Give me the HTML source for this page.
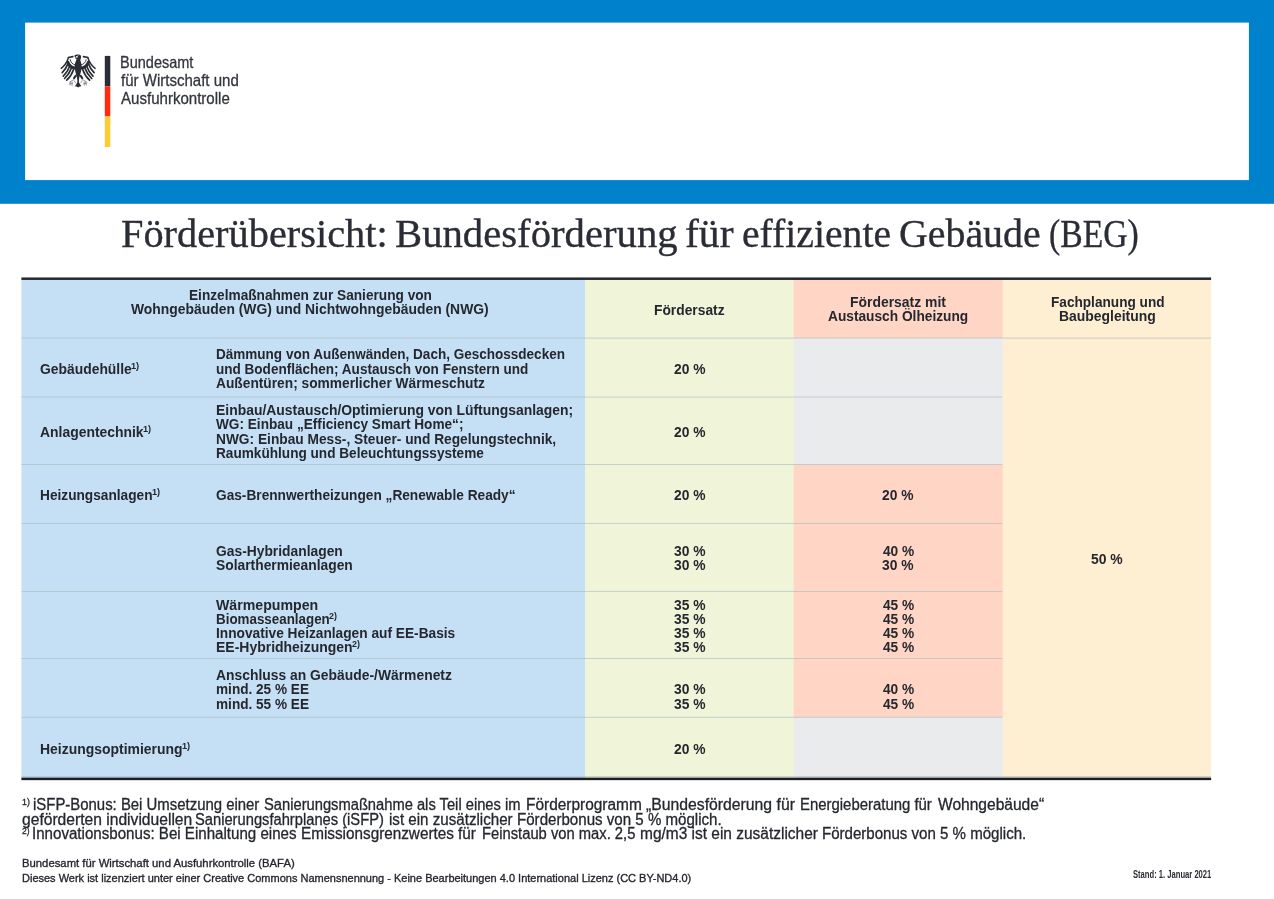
<!DOCTYPE html>
<html lang="de">
<head>
<meta charset="utf-8">
<title>Förderübersicht: Bundesförderung für effiziente Gebäude (BEG)</title>
<style>
html,body{margin:0;padding:0;background:#fff}
body{width:1274px;height:899px;position:relative;overflow:hidden;font-family:"Liberation Sans",sans-serif}
.abs{position:absolute}
.logo{-webkit-text-stroke:0.3px #33363d}
.title{-webkit-text-stroke:0.35px #2b2d36}
.fn,.fnsup{-webkit-text-stroke:0.3px #25272f}
.ft{-webkit-text-stroke:0.35px #25272f}
p{margin:0}
.t{position:absolute;white-space:pre;line-height:1;transform-origin:0 0;display:block}
.logo{font-family:"Liberation Sans", sans-serif;font-size:16.5px;font-weight:400;color:#33363d}
.title{font-family:"Liberation Serif", serif;font-size:40.6px;font-weight:400;color:#2b2d36}
.th{font-family:"Liberation Sans", sans-serif;font-size:15px;font-weight:700;color:#25272f}
.td{font-family:"Liberation Sans", sans-serif;font-size:15px;font-weight:700;color:#25272f}
.num{font-family:"Liberation Sans", sans-serif;font-size:15px;font-weight:700;color:#25272f}
.sup{font-family:"Liberation Sans", sans-serif;font-size:9px;font-weight:700;color:#25272f}
.fn{font-family:"Liberation Sans", sans-serif;font-size:16px;font-weight:400;color:#25272f}
.fnsup{font-family:"Liberation Sans", sans-serif;font-size:9.3px;font-weight:400;color:#25272f}
.ft{font-family:"Liberation Sans", sans-serif;font-size:11.8px;font-weight:400;color:#25272f}
.st{font-family:"Liberation Sans", sans-serif;font-size:10.4px;font-weight:700;color:#2b2d36}
#hdr{left:0;top:0;width:1274px;height:204px}
#hdrbox{left:25px;top:23px;width:1224px;height:157px}
</style>
</head>
<body>
<svg class="abs" id="tblbg" width="1274" height="899" viewBox="0 0 1274 899" style="left:0;top:0" aria-hidden="true">
<rect x="0" y="0" width="1274" height="203.8" fill="#0081cc"/>
<rect x="25.1" y="22.6" width="1223.8" height="157.5" fill="#fff"/>
<rect x="104.8" y="55.9" width="5.5" height="30.4" fill="#2b2d36"/>
<rect x="104.8" y="86.3" width="5.5" height="30.1" fill="#ff2c10"/>
<rect x="104.8" y="116.4" width="5.5" height="30.6" fill="#ffcb32"/>
<rect x="21.40" y="279.00" width="564.10" height="499.50" fill="#c5e0f4"/>
<rect x="585.00" y="279.00" width="209.20" height="499.50" fill="#f0f5d9"/>
<rect x="1002.30" y="279.00" width="208.80" height="499.50" fill="#feeed2"/>
<rect x="793.70" y="279.00" width="209.10" height="59.60" fill="#ffd5c5"/>
<rect x="793.70" y="338.10" width="209.10" height="59.45" fill="#eaebed"/>
<rect x="793.70" y="397.05" width="209.10" height="67.95" fill="#eaebed"/>
<rect x="793.70" y="464.50" width="209.10" height="59.45" fill="#ffd5c5"/>
<rect x="793.70" y="523.45" width="209.10" height="68.50" fill="#ffd5c5"/>
<rect x="793.70" y="591.45" width="209.10" height="67.55" fill="#ffd5c5"/>
<rect x="793.70" y="658.50" width="209.10" height="59.30" fill="#ffd5c5"/>
<rect x="793.70" y="717.30" width="209.10" height="61.20" fill="#eaebed"/>
<rect x="21.40" y="337.60" width="1189.70" height="1.00" fill="#a7b9c2" fill-opacity="0.6"/>
<rect x="21.40" y="396.55" width="980.90" height="1.00" fill="#a7b9c2" fill-opacity="0.6"/>
<rect x="21.40" y="464.00" width="980.90" height="1.00" fill="#a7b9c2" fill-opacity="0.6"/>
<rect x="21.40" y="522.95" width="980.90" height="1.00" fill="#a7b9c2" fill-opacity="0.6"/>
<rect x="21.40" y="590.95" width="980.90" height="1.00" fill="#a7b9c2" fill-opacity="0.6"/>
<rect x="21.40" y="658.00" width="980.90" height="1.00" fill="#a7b9c2" fill-opacity="0.6"/>
<rect x="21.40" y="716.80" width="980.90" height="1.00" fill="#a7b9c2" fill-opacity="0.6"/>
<rect x="21.40" y="776.10" width="1189.70" height="1.00" fill="#a7b9c2" fill-opacity="0.6"/>
<rect x="21.40" y="277.45" width="1189.70" height="2.50" fill="#25282f"/>
<rect x="21.40" y="777.65" width="1189.70" height="2.50" fill="#1b1c25"/>
</svg>
<header class="abs" id="hdr"></header>
<div class="abs" id="hdrbox"></div>
<div id="logo">
<svg class="abs" id="eagle" viewBox="54 48 50 46" style="left:54px;top:48px;width:50px;height:46px" aria-label="Bundesadler">
<defs>
<g id="wing" fill="none" stroke="#2a2d35" stroke-linecap="round" stroke-linejoin="round">
<path d="M72.8 56.7 L68.6 57.5" stroke-width="1.7"/>
<path d="M68.5 57.5 C67.7 60.2 66.8 62.2 65.2 64.2 C63.8 66 62.6 67.4 61.2 68.4" stroke-width="1.45"/>
<path d="M67.9 63.6 C66.8 66.6 64.6 70.4 62.2 72.6" stroke-width="1.7"/>
<path d="M69.6 66.2 C68.4 69.6 65.8 73.8 63.3 76.2" stroke-width="1.7"/>
<path d="M71.5 67.9 C70.2 71.6 67.2 76 64.6 78.5" stroke-width="1.7"/>
<path d="M73.7 69.2 C72.4 73 69.6 77.6 66.7 80.2" stroke-width="1.7"/>
<path d="M68.0 62.4 C69.2 65.8 71.8 67.6 75.6 68.1" stroke-width="3"/>
<path d="M70.2 59.6 C70.5 62.3 72.4 64.2 75.3 64.9" stroke-width="0.9"/>
</g>
</defs>
<use href="#wing"/>
<use href="#wing" transform="translate(156.3 0) scale(-1 1)"/>
<path fill="#2a2d35" d="M76.5 59.8 C75.4 61.6 74.8 63.6 74.7 66 C74.6 69.6 75.7 73.4 76.9 77.4 C77.4 79.4 77.5 81 77.3 82.6 L74.9 86.3 L76.6 86.6 L78.15 87.5 L79.7 86.6 L81.4 86.3 L79 82.6 C78.8 81 78.9 79.4 79.3 77.4 C80.6 73.4 81.7 69.6 81.6 66 C81.5 63.6 80.9 61.6 80 59.8 Z"/>
<path fill="#2a2d35" d="M74.2 55.7 C75.6 54.4 79.4 53.9 80.8 55.6 C81.6 57.4 80.6 59.4 80.1 60.4 L76.4 60.4 C77 59.2 76.4 58.7 75 58.9 L75.9 57.8 C75.3 57.3 74.6 56.6 74.2 55.7 Z"/>
<circle cx="76.9" cy="56.8" r="0.85" fill="#fff"/>
<path d="M76.9 56.5 L78.3 55.7" stroke="#fff" stroke-width="0.5" stroke-linecap="round"/>
<g fill="none" stroke="#2a2d35" stroke-linecap="round" stroke-width="2.1">
<path d="M75.6 75.9 L74.1 78.1"/><path d="M80.7 75.9 L82.2 78.1"/>
</g>
<g fill="none" stroke="#7d8088" stroke-linecap="round" stroke-width="0.8">
<path d="M73.8 79.6 L69.4 82.2"/><path d="M71 82 L70 85"/><path d="M72.2 82.2 L72 85.4"/><path d="M74.2 80.8 L75.4 82.6"/><path d="M69.6 83.6 L72.6 83.6"/>
<path d="M82.5 79.6 L86.9 82.2"/><path d="M85.3 82 L86.3 85"/><path d="M84.1 82.2 L84.3 85.4"/><path d="M82.1 80.8 L80.9 82.6"/><path d="M83.7 83.6 L86.7 83.6"/>
</g>
</svg>
<span class="t logo" style="left:119.59px;top:54px;transform:scaleX(0.8792)">Bundesamt</span>
<span class="t logo" style="left:120.57px;top:72px;transform:scaleX(0.9112)">für Wirtschaft und</span>
<span class="t logo" style="left:120.57px;top:90px;transform:scaleX(0.9126)">Ausfuhrkontrolle</span>
</div>
<h1 style="margin:0">
<span class="t title" style="left:120.81px;top:214px;transform:scaleX(0.9942)">Förderübersicht:</span>
<span class="t title" style="left:395.00px;top:214px;transform:scaleX(1.0031)">Bundesförderung</span>
<span class="t title" style="left:684.82px;top:214px;transform:scaleX(1.0255)">für</span>
<span class="t title" style="left:741.63px;top:214px;transform:scaleX(0.9779)">effiziente</span>
<span class="t title" style="left:899.03px;top:214px;transform:scaleX(0.9820)">Gebäude</span>
<span class="t title" style="left:1048.51px;top:214px;transform:scaleX(0.8294)">(BEG)</span>
</h1>
<main>
<div role="table">
<div role="row"><span class="t th" style="left:188.59px;top:287px;transform:scaleX(0.9108)">Einzelmaßnahmen zur Sanierung von</span>
<span class="t th" style="left:131.24px;top:301px;transform:scaleX(0.9258)">Wohngebäuden (WG) und Nichtwohngebäuden (NWG)</span><span class="t th" style="left:654.28px;top:302px;transform:scaleX(0.9202)">Fördersatz</span><span class="t th" style="left:850.27px;top:294px;transform:scaleX(0.9278)">Fördersatz mit</span>
<span class="t th" style="left:828.08px;top:308px;transform:scaleX(0.9144)">Austausch Ölheizung</span><span class="t th" style="left:1050.69px;top:294px;transform:scaleX(0.9083)">Fachplanung und</span>
<span class="t th" style="left:1059.27px;top:308px;transform:scaleX(0.9283)">Baubegleitung</span></div>
<div role="row"><span class="t td" style="left:40.06px;top:361px;transform:scaleX(0.9254)">Gebäudehülle</span>
<span class="t sup" style="left:131.32px;top:362px;transform:scaleX(1.0217)">1)</span><span class="t td" style="left:216.10px;top:346px;transform:scaleX(0.9016)">Dämmung von Außenwänden, Dach, Geschossdecken</span>
<span class="t td" style="left:216.10px;top:361px;transform:scaleX(0.9025)">und Bodenflächen; Austausch von Fenstern und</span>
<span class="t td" style="left:216.48px;top:375px;transform:scaleX(0.9167)">Außentüren; sommerlicher Wärmeschutz</span><span class="t num" style="left:673.72px;top:361px;transform:scaleX(0.9211)">20 %</span></div>
<div role="row"><span class="t td" style="left:39.67px;top:424px;transform:scaleX(0.9277)">Anlagentechnik</span>
<span class="t sup" style="left:143.02px;top:425px;transform:scaleX(1.0217)">1)</span><span class="t td" style="left:216.07px;top:402px;transform:scaleX(0.9277)">Einbau/Austausch/Optimierung von Lüftungsanlagen;</span>
<span class="t td" style="left:216.25px;top:416px;transform:scaleX(0.9079)">WG: Einbau „Efficiency Smart Home“;</span>
<span class="t td" style="left:216.08px;top:431px;transform:scaleX(0.9152)">NWG: Einbau Mess-, Steuer- und Regelungstechnik,</span>
<span class="t td" style="left:216.09px;top:445px;transform:scaleX(0.9077)">Raumkühlung und Beleuchtungssysteme</span><span class="t num" style="left:673.72px;top:424px;transform:scaleX(0.9211)">20 %</span></div>
<div role="row"><span class="t td" style="left:40.09px;top:487px;transform:scaleX(0.9121)">Heizungsanlagen</span>
<span class="t sup" style="left:151.92px;top:488px;transform:scaleX(1.0217)">1)</span><span class="t td" style="left:216.37px;top:487px;transform:scaleX(0.9122)">Gas-Brennwertheizungen „Renewable Ready“</span><span class="t num" style="left:673.72px;top:487px;transform:scaleX(0.9211)">20 %</span><span class="t num" style="left:882.42px;top:487px;transform:scaleX(0.9211)">20 %</span></div>
<div role="row"><span class="t td" style="left:216.37px;top:543px;transform:scaleX(0.9220)">Gas-Hybridanlagen</span>
<span class="t td" style="left:216.36px;top:557px;transform:scaleX(0.9218)">Solarthermieanlagen</span><span class="t num" style="left:673.66px;top:543px;transform:scaleX(0.9226)">30 %</span>
<span class="t num" style="left:673.66px;top:557px;transform:scaleX(0.9226)">30 %</span><span class="t num" style="left:882.67px;top:543px;transform:scaleX(0.9136)">40 %</span>
<span class="t num" style="left:882.36px;top:557px;transform:scaleX(0.9226)">30 %</span></div>
<div role="row"><span class="t td" style="left:216.24px;top:597px;transform:scaleX(0.9431)">Wärmepumpen</span>
<span class="t td" style="left:216.11px;top:611px;transform:scaleX(0.8917)">Biomasseanlagen</span>
<span class="t sup" style="left:329.47px;top:612px;transform:scaleX(0.9877)">2)</span>
<span class="t td" style="left:216.09px;top:625px;transform:scaleX(0.9140)">Innovative Heizanlagen auf EE-Basis</span>
<span class="t td" style="left:216.07px;top:639px;transform:scaleX(0.9315)">EE-Hybridheizungen</span>
<span class="t sup" style="left:352.17px;top:640px;transform:scaleX(0.9877)">2)</span><span class="t num" style="left:673.66px;top:597px;transform:scaleX(0.9226)">35 %</span>
<span class="t num" style="left:673.66px;top:611px;transform:scaleX(0.9226)">35 %</span>
<span class="t num" style="left:673.66px;top:625px;transform:scaleX(0.9226)">35 %</span>
<span class="t num" style="left:673.66px;top:639px;transform:scaleX(0.9226)">35 %</span><span class="t num" style="left:882.67px;top:597px;transform:scaleX(0.9136)">45 %</span>
<span class="t num" style="left:882.67px;top:611px;transform:scaleX(0.9136)">45 %</span>
<span class="t num" style="left:882.67px;top:625px;transform:scaleX(0.9136)">45 %</span>
<span class="t num" style="left:882.67px;top:639px;transform:scaleX(0.9136)">45 %</span></div>
<div role="row"><span class="t td" style="left:216.47px;top:667px;transform:scaleX(0.9249)">Anschluss an Gebäude-/Wärmenetz</span>
<span class="t td" style="left:216.07px;top:681px;transform:scaleX(0.9070)">mind. 25 % EE</span>
<span class="t td" style="left:216.07px;top:696px;transform:scaleX(0.9070)">mind. 55 % EE</span><span class="t num" style="left:673.66px;top:681px;transform:scaleX(0.9226)">30 %</span>
<span class="t num" style="left:673.66px;top:696px;transform:scaleX(0.9226)">35 %</span><span class="t num" style="left:882.67px;top:681px;transform:scaleX(0.9136)">40 %</span>
<span class="t num" style="left:882.67px;top:696px;transform:scaleX(0.9136)">45 %</span></div>
<div role="row"><span class="t td" style="left:40.07px;top:741px;transform:scaleX(0.9295)">Heizungsoptimierung</span>
<span class="t sup" style="left:181.82px;top:742px;transform:scaleX(1.0217)">1)</span><span class="t num" style="left:673.72px;top:741px;transform:scaleX(0.9211)">20 %</span></div>
<div role="cell"><span class="t num" style="left:1091.37px;top:551px;transform:scaleX(0.9285)">50 %</span></div>
</div>
</main>
<section id="notes">
<p><span class="t fnsup" style="left:21.76px;top:798px;transform:scaleX(0.9498)">1)</span>
<span class="t fn" style="left:32.58px;top:797px;transform:scaleX(0.9323)">iSFP-Bonus: Bei Umsetzung einer</span>
<span class="t fn" style="left:264.05px;top:797px;transform:scaleX(0.9196)">Sanierungsmaßnahme als Teil eines im</span>
<span class="t fn" style="left:526.02px;top:797px;transform:scaleX(0.9646)">Förderprogramm</span>
<span class="t fn" style="left:646.47px;top:797px;transform:scaleX(0.9847)">„Bundesförderung für</span>
<span class="t fn" style="left:799.66px;top:797px;transform:scaleX(0.9319)">Energieberatung für</span>
<span class="t fn" style="left:937.77px;top:797px;transform:scaleX(0.9722)">Wohngebäude“</span><span class="t fn" style="left:21.62px;top:812px;transform:scaleX(0.9765)">geförderten individuellen</span>
<span class="t fn" style="left:195.45px;top:812px;transform:scaleX(0.9194)">Sanierungsfahrplanes (iSFP)</span>
<span class="t fn" style="left:388.77px;top:812px;transform:scaleX(0.9455)">ist ein zusätzlicher</span>
<span class="t fn" style="left:517.25px;top:812px;transform:scaleX(0.9433)">Förderbonus von 5 % möglich.</span></p>
<p><span class="t fnsup" style="left:22.01px;top:827px;transform:scaleX(0.9182)">2)</span>
<span class="t fn" style="left:32.39px;top:826px;transform:scaleX(0.9442)">Innovationsbonus: Bei Einhaltung eines</span>
<span class="t fn" style="left:300.73px;top:826px;transform:scaleX(0.9551)">Emissionsgrenzwertes für</span>
<span class="t fn" style="left:481.57px;top:826px;transform:scaleX(0.9220)">Feinstaub von max. 2,5</span>
<span class="t fn" style="left:639.53px;top:826px;transform:scaleX(0.9667)">mg/m3 ist ein zusätzlicher</span>
<span class="t fn" style="left:822.25px;top:826px;transform:scaleX(0.9414)">Förderbonus von 5 % möglich.</span></p>
</section>
<footer>
<p><span class="t ft" style="left:21.54px;top:858px;transform:scaleX(0.9583)">Bundesamt für Wirtschaft und Ausfuhrkontrolle (BAFA)</span></p>
<p><span class="t ft" style="left:21.57px;top:873px;transform:scaleX(0.9321)">Dieses Werk ist lizenziert unter einer Creative Commons Namensnennung - Keine Bearbeitungen 4.0 International Lizenz (CC BY-ND4.0)</span></p>
<p><span class="t st" style="left:1132.94px;top:870px;transform:scaleX(0.7332)">Stand: 1. Januar 2021</span></p>
</footer>
</body>
</html>
